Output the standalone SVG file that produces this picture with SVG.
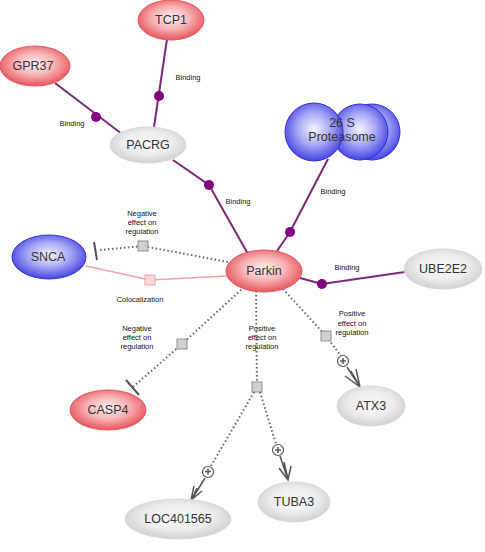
<svg xmlns="http://www.w3.org/2000/svg" width="485" height="552" viewBox="0 0 485 552">
<defs>
<radialGradient id="gRed" cx="50%" cy="45%" r="55%">
<stop offset="0" stop-color="#fff0f0"/><stop offset="0.5" stop-color="#f8b4b6"/><stop offset="1" stop-color="#e6545c"/>
</radialGradient>
<radialGradient id="gBlue" cx="50%" cy="45%" r="55%">
<stop offset="0" stop-color="#f4f4ff"/><stop offset="0.5" stop-color="#aaaaf6"/><stop offset="1" stop-color="#4444e4"/>
</radialGradient>
<radialGradient id="gGray" cx="50%" cy="45%" r="55%">
<stop offset="0" stop-color="#fafafa"/><stop offset="0.6" stop-color="#ececec"/><stop offset="1" stop-color="#d0d0d0"/>
</radialGradient>
</defs>
<style>
.red{fill:url(#gRed);stroke:#e05a62;stroke-width:1}
.blue{fill:url(#gBlue);stroke:#3030d0;stroke-width:1}
.gray{fill:url(#gGray);stroke:#d8d8d8;stroke-width:1}
.nt{font-family:"Liberation Sans",Arial,sans-serif;font-size:12.5px;fill:#333;text-anchor:middle}
.lt{font-family:"Liberation Sans",Arial,sans-serif;font-size:7.5px;fill:#111;text-anchor:middle}
.bind{stroke:#7a287a;stroke-width:2;fill:none}
.dot{fill:#800080}
.dash{stroke:#666;stroke-width:2;stroke-dasharray:1.5 2.5;fill:none}
.sq{fill:#d0d0d0;stroke:#909090;stroke-width:1}
.coloc{stroke:#f0a0a8;stroke-width:1.5;fill:none}
.sqp{fill:#fcd8dc;stroke:#f0a0a8;stroke-width:1}
.bar{stroke:#555;stroke-width:2}
.arr{stroke:#555;stroke-width:1.5;fill:none}
.plus{fill:#fff;stroke:#555;stroke-width:1.2}
</style>
<g id="connectors">
<!-- Binding edges -->
<line class="bind" x1="55" y1="83" x2="122" y2="134"/><circle class="dot" cx="96" cy="117" r="5"/>
<text class="lt" x="72" y="126">Binding</text>
<line class="bind" x1="167" y1="39" x2="154" y2="127"/><circle class="dot" cx="159" cy="96" r="5"/>
<text class="lt" x="188" y="80">Binding</text>
<polyline class="bind" points="173,160 209,185 248,254"/><circle class="dot" cx="209" cy="185" r="5"/>
<text class="lt" x="238" y="204">Binding</text>
<polyline class="bind" points="328,159 290,232 277,251"/><circle class="dot" cx="290" cy="232" r="5"/>
<text class="lt" x="333" y="194">Binding</text>
<polyline class="bind" points="300,278 322,284 405,272"/><circle class="dot" cx="322" cy="284" r="5"/>
<text class="lt" x="347" y="270">Binding</text>
<!-- SNCA negative -->
<polyline class="dash" points="100,250 143,246 228,262"/>
<line class="bar" x1="94" y1="242" x2="97" y2="260"/>
<rect class="sq" x="138" y="241" width="10" height="10"/>
<text class="lt" x="142" y="216">Negative</text><text class="lt" x="142" y="225">effect on</text><text class="lt" x="142" y="234">regulation</text>
<!-- Colocalization -->
<polyline class="coloc" points="86,266 150,280 227,276"/>
<rect class="sqp" x="145" y="275" width="10" height="10"/>
<text class="lt" x="140" y="302">Colocalization</text>
<!-- CASP4 negative -->
<polyline class="dash" points="133,387 182,344 242,289"/>
<line class="bar" x1="126" y1="380" x2="139" y2="395"/>
<rect class="sq" x="177" y="339" width="10" height="10"/>
<text class="lt" x="137" y="331">Negative</text><text class="lt" x="137" y="340">effect on</text><text class="lt" x="137" y="349">regulation</text>
<!-- middle positive -->
<polyline class="dash" points="256,291 257,387"/>
<rect class="sq" x="252" y="382" width="10" height="10"/>
<text class="lt" x="262" y="331">Positive</text><text class="lt" x="262" y="340">effect on</text><text class="lt" x="262" y="349">regulation</text>
<polyline class="dash" points="254,392 211,466"/>
<circle class="plus" cx="208" cy="472" r="5.5"/><path class="arr" d="M205,471.5h6M208,468.5v6"/>
<path class="arr" d="M205,478 L192,499 M194,486 L191,500 L202,491 M197,488 L192,499"/>
<polyline class="dash" points="260,392 276,444"/>
<circle class="plus" cx="278" cy="450" r="5.5"/><path class="arr" d="M275,450h6M278,447v6"/>
<path class="arr" d="M280,456 L288,480 M279,468 L288,480 L291,466 M284,462 L288,479"/>
<!-- ATX3 positive -->
<polyline class="dash" points="283,289 326,336 341,356"/>
<rect class="sq" x="321" y="331" width="10" height="10"/>
<text class="lt" x="352" y="316">Positive</text><text class="lt" x="352" y="326">effect on</text><text class="lt" x="352" y="335">regulation</text>
<circle class="plus" cx="343" cy="361" r="5.5"/><path class="arr" d="M340,361h6M343,358v6"/>
<path class="arr" d="M347,367 L360,387 M345,376 L360,387 L356,369 M351,371 L359,385"/>
</g>
<g id="TCP1"><ellipse class="red" cx="171" cy="20" rx="33" ry="20"/><text class="nt" x="171" y="24">TCP1</text></g>
<g id="GPR37"><ellipse class="red" cx="35" cy="66" rx="35" ry="20"/><text class="nt" x="33" y="70">GPR37</text></g>
<g id="PACRG"><ellipse class="gray" cx="148" cy="145" rx="38" ry="18"/><text class="nt" x="148" y="149">PACRG</text></g>
<g id="Proteasome">
<circle class="blue" cx="372" cy="132" r="28"/>
<circle class="blue" cx="360" cy="132" r="28"/>
<circle class="blue" cx="314" cy="132" r="29"/>
<text class="nt" x="342" y="127">26 S</text><text class="nt" x="342" y="141">Proteasome</text>
</g>
<g id="Parkin"><ellipse class="red" cx="264" cy="271" rx="38" ry="21"/><text class="nt" x="264" y="275">Parkin</text></g>
<g id="UBE2E2"><ellipse class="gray" cx="443" cy="269" rx="39" ry="20"/><text class="nt" x="443" y="273">UBE2E2</text></g>
<g id="SNCA"><ellipse class="blue" cx="49" cy="257" rx="37" ry="22"/><text class="nt" x="48" y="261">SNCA</text></g>
<g id="CASP4"><ellipse class="red" cx="108" cy="410" rx="38" ry="20"/><text class="nt" x="108" y="414">CASP4</text></g>
<g id="ATX3"><ellipse class="gray" cx="371" cy="406" rx="34" ry="20"/><text class="nt" x="371" y="410">ATX3</text></g>
<g id="TUBA3"><ellipse class="gray" cx="294" cy="502" rx="36" ry="20"/><text class="nt" x="294" y="506">TUBA3</text></g>
<g id="LOC401565"><ellipse class="gray" cx="178" cy="519" rx="53" ry="20"/><text class="nt" x="178" y="523">LOC401565</text></g>
</svg>
